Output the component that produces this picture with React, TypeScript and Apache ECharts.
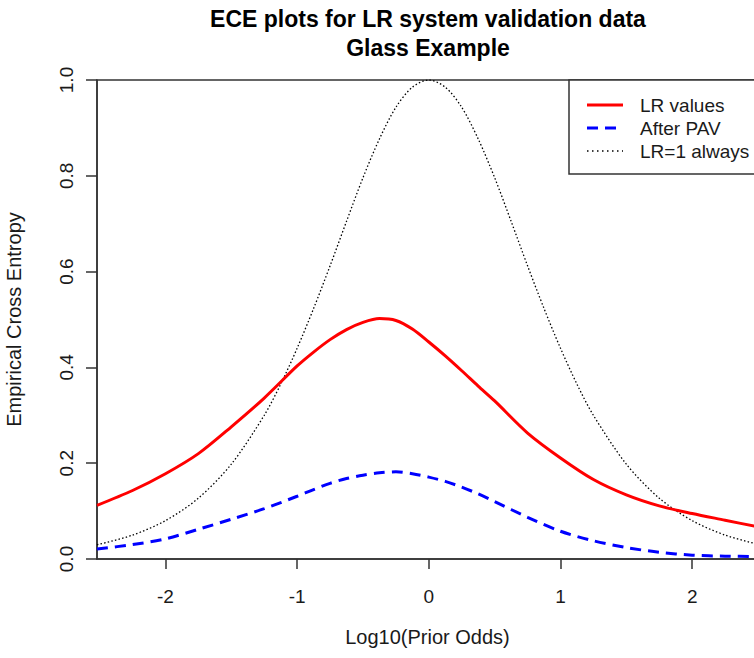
import React, { useEffect, useRef } from "react";
import * as echarts from "echarts";

const titleLines = ["ECE plots for LR system validation data", "Glass Example"];
const xName = "Log10(Prior Odds)";
const yName = "Empirical Cross Entropy";
const legendNames = ["LR values", "After PAV", "LR=1 always"];

const lrX = [-2.52, -2.25, -2.0, -1.75, -1.5, -1.25, -1.0, -0.875, -0.75, -0.625, -0.5, -0.375, -0.25, -0.125, 0.0, 0.125, 0.25, 0.375, 0.5, 0.75, 1.0, 1.25, 1.5, 1.75, 2.0, 2.25, 2.5];
const lrY = [0.112, 0.143, 0.178, 0.22, 0.276, 0.336, 0.403, 0.432, 0.458, 0.479, 0.494, 0.502, 0.498, 0.48, 0.453, 0.424, 0.393, 0.361, 0.33, 0.263, 0.211, 0.166, 0.134, 0.111, 0.095, 0.081, 0.067];

const pavX = [-2.52, -2.25, -2.0, -1.75, -1.5, -1.25, -1.0, -0.875, -0.75, -0.625, -0.5, -0.375, -0.25, -0.125, 0.0, 0.125, 0.25, 0.375, 0.5, 0.75, 1.0, 1.25, 1.5, 1.75, 2.0, 2.25, 2.5];
const pavY = [0.021, 0.03, 0.042, 0.062, 0.083, 0.105, 0.131, 0.145, 0.158, 0.168, 0.175, 0.18, 0.182, 0.178, 0.171, 0.162, 0.15, 0.136, 0.12, 0.087, 0.058, 0.038, 0.024, 0.014, 0.008, 0.006, 0.005];

const nullX = [-2.52, -2.25, -2.0, -1.75, -1.5, -1.25, -1.125, -1.0, -0.875, -0.75, -0.625, -0.5, -0.375, -0.25, -0.125, 0.0, 0.125, 0.25, 0.375, 0.5, 0.625, 0.75, 0.875, 1.0, 1.125, 1.25, 1.5, 1.75, 2.0, 2.25, 2.5];
const nullY = [0.0296, 0.0499, 0.0801, 0.127, 0.198, 0.3, 0.365, 0.44, 0.523, 0.612, 0.705, 0.796, 0.877, 0.943, 0.985, 1.0, 0.985, 0.943, 0.877, 0.796, 0.705, 0.612, 0.523, 0.44, 0.365, 0.3, 0.198, 0.127, 0.0801, 0.0499, 0.0307];

const xTicks = [-2, -1, 0, 1, 2];

const FONT = "'Liberation Sans', Arial, sans-serif";
const AXIS_COLOR = "#333333";
const TEXT_COLOR = "#1a1a1a";

function pairs(xs: number[], ys: number[]) {
  return xs.map((x, i) => [x, ys[i]]);
}

export default function App() {
  const ref = useRef<HTMLDivElement>(null);
  useEffect(() => {
    if (!ref.current) return;
    const chart = echarts.init(ref.current, undefined, { renderer: "svg" });
    const gl = 97, gt = 80, gw = 661, gh = 479;
    const legX = 569, legY = 80;
    const option: any = {
      animation: false,
      backgroundColor: "#ffffff",
      grid: {
        left: gl, top: gt, width: gw, height: gh, show: true,
        borderColor: AXIS_COLOR, borderWidth: 1.5, backgroundColor: "transparent",
        containLabel: false, outerBoundsMode: "none",
      },
      xAxis: {
        type: "value",
        min: -2.52,
        max: 2.5,
        name: xName,
        nameLocation: "middle",
        nameGap: 68,
        nameTextStyle: { fontFamily: FONT, fontSize: 20, color: TEXT_COLOR },
        axisLine: { show: true, onZero: false, lineStyle: { color: AXIS_COLOR, width: 1.5 } },
        axisTick: { show: true, length: 10, lineStyle: { color: AXIS_COLOR, width: 1.5 }, customValues: xTicks },
        axisLabel: { fontFamily: FONT, fontSize: 19, color: TEXT_COLOR, margin: 28, customValues: xTicks, formatter: (v: number) => String(v) },
        splitLine: { show: false },
      },
      yAxis: {
        type: "value",
        min: 0,
        max: 1,
        interval: 0.2,
        name: yName,
        nameLocation: "middle",
        nameGap: 73,
        nameTextStyle: { fontFamily: FONT, fontSize: 20, color: TEXT_COLOR },
        axisLine: { show: true, onZero: false, lineStyle: { color: AXIS_COLOR, width: 1.5 } },
        axisTick: { show: true, length: 11, lineStyle: { color: AXIS_COLOR, width: 1.5 } },
        axisLabel: { fontFamily: FONT, fontSize: 19, color: TEXT_COLOR, rotate: 90, margin: 21, formatter: (v: number) => v.toFixed(1) },
        splitLine: { show: false },
      },
      series: [
        {
          name: legendNames[2], type: "line", data: pairs(nullX, nullY), smooth: 0.3, showSymbol: false,
          lineStyle: { color: "#000000", width: 1.3, type: [1.5, 2.2] }, z: 2,
        },
        {
          name: legendNames[0], type: "line", data: pairs(lrX, lrY), smooth: 0.3, showSymbol: false,
          lineStyle: { color: "#ff0000", width: 3 }, z: 3,
        },
        {
          name: legendNames[1], type: "line", data: pairs(pavX, pavY), smooth: 0.3, showSymbol: false,
          lineStyle: { color: "#0000ff", width: 3, type: [11, 7] }, z: 3,
        },
      ],
      graphic: [
        { type: "text", x: 428, y: 19, style: { text: titleLines[0], font: `bold 23px ${FONT}`, fill: "#000", textAlign: "center", textVerticalAlign: "middle" } },
        { type: "text", x: 428, y: 48, style: { text: titleLines[1], font: `bold 23px ${FONT}`, fill: "#000", textAlign: "center", textVerticalAlign: "middle" } },
        { type: "rect", shape: { x: legX, y: legY, width: 200, height: 94 }, style: { fill: "#ffffff", stroke: AXIS_COLOR, lineWidth: 1.5 }, z: 100 },
        { type: "line", shape: { x1: 587, y1: 105, x2: 623, y2: 105 }, style: { stroke: "#ff0000", lineWidth: 3 }, z: 101 },
        { type: "line", shape: { x1: 587, y1: 128, x2: 623, y2: 128 }, style: { stroke: "#0000ff", lineWidth: 3, lineDash: [11, 7] }, z: 101 },
        { type: "line", shape: { x1: 587, y1: 151, x2: 623, y2: 151 }, style: { stroke: "#000000", lineWidth: 1.5, lineDash: [1.5, 3.5] }, z: 101 },
        { type: "text", x: 640, y: 105, style: { text: legendNames[0], font: `19px ${FONT}`, fill: TEXT_COLOR, textVerticalAlign: "middle" }, z: 101 },
        { type: "text", x: 640, y: 128, style: { text: legendNames[1], font: `19px ${FONT}`, fill: TEXT_COLOR, textVerticalAlign: "middle" }, z: 101 },
        { type: "text", x: 640, y: 151, style: { text: legendNames[2], font: `19px ${FONT}`, fill: TEXT_COLOR, textVerticalAlign: "middle" }, z: 101 },
      ],
    };
    chart.setOption(option);
    return () => chart.dispose();
  }, []);
  return <div ref={ref} style={{ width: 754, height: 658, position: "absolute", left: 0, top: 0 }} />;
}
